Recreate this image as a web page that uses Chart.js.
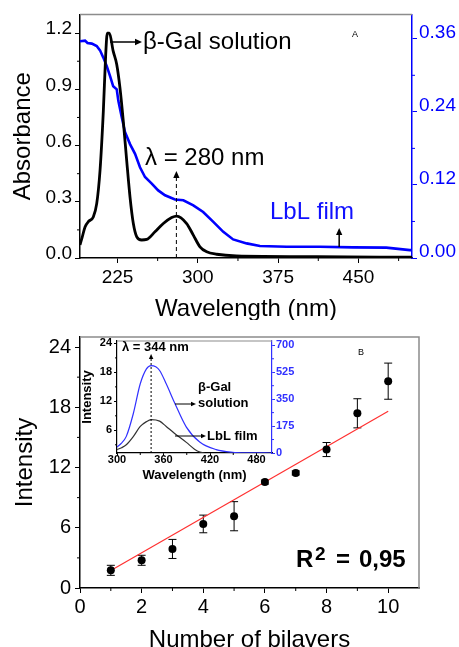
<!DOCTYPE html>
<html lang="en">
<head>
  <meta charset="UTF-8">
  <title>β-Gal absorbance and fluorescence</title>
  <style>
    html, body { margin: 0; padding: 0; background: #fff; overflow: hidden; }
    #wrap { position: relative; width: 459px; height: 647px; }
    canvas { position: absolute; }
  </style>
</head>
<body>
  <div id="wrap">
    <canvas id="chartA" width="459" height="320" style="left:0;top:0"></canvas>
    <canvas id="chartB" width="459" height="340" style="left:0;top:320px"></canvas>
    <canvas id="inset" width="230" height="160" style="left:72px;top:330px"></canvas>
  </div>

  <script src="https://cdn.jsdelivr.net/npm/chart.js"></script>
  <script>
    const FONT = 'Arial, "Liberation Sans", sans-serif';

    // ---- panel A: UV-vis absorbance ----
    const wlGal  = [190, 192, 194.7, 198, 202.4, 205.6, 208.7, 211.8, 214, 215.5, 217.4, 221, 224.3, 227.3, 230.4, 233.6, 236.7, 239.8, 243, 247.6, 252.3, 260, 267.8, 275.6, 280.3, 289.6, 295.8, 302, 308.3, 317.6, 336, 411, 500];
    const absGal = [0.07, 0.11, 0.166, 0.195, 0.219, 0.29, 0.467, 0.785, 1.086, 1.2, 1.2, 1.104, 1.033, 0.909, 0.732, 0.52, 0.325, 0.184, 0.113, 0.096, 0.099, 0.14, 0.184, 0.216, 0.224, 0.184, 0.122, 0.06, 0.033, 0.02, 0.011, 0.007, 0.004];
    const wlFilm  = [190, 194.7, 197, 201, 205.6, 208.7, 211.8, 215, 218, 221, 224.3, 225.8, 229, 232, 236.7, 241.4, 246, 250.7, 257, 263, 269.4, 278.7, 286.5, 295.8, 305, 314.5, 323.8, 333, 345.6, 358, 383, 414, 445, 476, 498, 500];
    const absFilm = [0.356, 0.357, 0.353, 0.352, 0.348, 0.341, 0.329, 0.315, 0.299, 0.282, 0.277, 0.258, 0.231, 0.207, 0.187, 0.171, 0.149, 0.133, 0.122, 0.111, 0.103, 0.096, 0.0947, 0.0865, 0.0756, 0.0593, 0.0429, 0.0305, 0.024, 0.0196, 0.0185, 0.0185, 0.0175, 0.017, 0.013, 0.013];

    const ticksAx = [225, 300, 375, 450];
    const minorAx = [262.5, 337.5, 412.5, 487.5];
    const ticksAy = [0, 0.3, 0.6, 0.9, 1.2];
    const labelsAy = ['0.0', '0.3', '0.6', '0.9', '1.2'];
    const minorAy = [0.15, 0.45, 0.75, 1.05];
    const ticksAy2 = [0, 0.12, 0.24, 0.36];
    const labelsAy2 = ['0.00', '0.12', '0.24', '0.36'];
    const minorAy2 = [0.06, 0.18, 0.30];

    // ---- panel B: intensity vs bilayers ----
    const bilayers = [1, 2, 3, 4, 5, 6, 7, 8, 9, 10];
    const intensity = [1.76, 2.76, 3.89, 6.38, 7.15, 10.55, 11.46, 13.79, 17.4, 20.6];
    const intensityErr = [0.5, 0.5, 0.95, 0.88, 1.45, 0.2, 0.2, 0.7, 1.45, 1.8];
    const fitX = [1, 10];
    const fitY = [1.75, 17.6];

    const ticksBx = [0, 2, 4, 6, 8, 10];
    const minorBx = [1, 3, 5, 7, 9];
    const ticksBy = [0, 6, 12, 18, 24];
    const minorBy = [3, 9, 15, 21];

    // ---- inset: fluorescence spectra ----
    const insetWlSol = [300, 305, 312, 321, 330, 338, 344, 350, 355, 363.5, 374, 389.5, 406.7, 428, 449, 470, 500];
    const insetSol   = [39, 60, 108, 255, 450, 547, 568, 560, 536, 450, 330, 168, 71, 22, 5, 1, 0];
    const insetWlFilm = [300, 306, 312, 321, 330, 338, 344, 355, 363.5, 374, 389.5, 400, 407, 413];
    const insetFilm   = [2.0, 2.4, 3.0, 4.7, 6.8, 7.8, 8.2, 7.9, 6.8, 5.4, 3.5, 2.1, 1.5, 1.3];

    const ticksIx = [300, 360, 420, 480];
    const minorIx = [330, 390, 450];
    const ticksIy = [6, 12, 18, 24];
    const minorIy = [3, 9, 15, 21];
    const ticksIy2 = [0, 175, 350, 525, 700];
    const minorIy2 = [87.5, 262.5, 437.5, 612.5];

    const toPts = (xs, ys) => xs.map((x, i) => ({ x, y: ys[i] }));
    const fixTicks = vals => s => { s.ticks = vals.map(v => ({ value: v })); };

    function arrow(ctx, x1, y1, x2, y2, color, w, head) {
      const a = Math.atan2(y2 - y1, x2 - x1);
      const h = head || 7;
      ctx.strokeStyle = color; ctx.fillStyle = color; ctx.lineWidth = w;
      ctx.beginPath(); ctx.moveTo(x1, y1);
      ctx.lineTo(x2 - h * 0.8 * Math.cos(a), y2 - h * 0.8 * Math.sin(a)); ctx.stroke();
      ctx.setLineDash([]);
      ctx.beginPath();
      ctx.moveTo(x2, y2);
      ctx.lineTo(x2 - h * Math.cos(a) + h * 0.45 * Math.sin(a), y2 - h * Math.sin(a) - h * 0.45 * Math.cos(a));
      ctx.lineTo(x2 - h * Math.cos(a) - h * 0.45 * Math.sin(a), y2 - h * Math.sin(a) + h * 0.45 * Math.cos(a));
      ctx.closePath(); ctx.fill();
    }

    function text(ctx, s, x, y, font, color, align) {
      ctx.font = font; ctx.fillStyle = color || '#000';
      ctx.textAlign = align || 'left'; ctx.textBaseline = 'middle';
      ctx.fillText(s, x, y);
    }

    // short minor ticks outside the axes
    function minorTicks(map, len) {
      return {
        id: 'minorTicks',
        afterDraw(chart) {
          const ctx = chart.ctx;
          ctx.save();
          for (const id in map) {
            const s = chart.scales[id];
            ctx.strokeStyle = s.options.border.color;
            ctx.lineWidth = 1;
            ctx.beginPath();
            map[id].forEach(v => {
              const p = s.getPixelForValue(v);
              if (s.isHorizontal()) { ctx.moveTo(p, s.top); ctx.lineTo(p, s.top + len); }
              else if (s.position === 'left') { ctx.moveTo(s.right, p); ctx.lineTo(s.right - len, p); }
              else { ctx.moveTo(s.left, p); ctx.lineTo(s.left + len, p); }
            });
            ctx.stroke();
          }
          ctx.restore();
        }
      };
    }

    function axis(opts) {
      return Object.assign({
        type: 'linear',
        grid: { drawOnChartArea: false, drawTicks: true, tickLength: opts.tl || 5, color: opts.color || '#000' },
        border: { color: opts.color || '#000', width: opts.bw || 1.5 },
      }, opts.extra);
    }

    // ================= Panel A =================
    const annotA = {
      id: 'annotA',
      afterDatasetsDraw(chart) {
        const { ctx, chartArea: ca, scales: { x } } = chart;
        ctx.save();
        ctx.strokeStyle = '#8c8c8c'; ctx.lineWidth = 1.5;
        ctx.beginPath(); ctx.moveTo(ca.left, ca.top); ctx.lineTo(ca.right, ca.top); ctx.stroke();

        arrow(ctx, 110, 42, 142, 42, '#000', 1.5, 7);
        text(ctx, 'β-Gal solution', 143, 42, '24px ' + FONT);
        text(ctx, 'λ = 280 nm', 145, 158, '24px ' + FONT);

        const xp = x.getPixelForValue(280);
        ctx.setLineDash([4, 3]);
        arrow(ctx, xp, ca.bottom, xp, 171, '#000', 1, 7);

        text(ctx, 'LbL film', 270, 212, '24px ' + FONT, '#1010ff');
        const xf = x.getPixelForValue(432);
        arrow(ctx, xf, 247, xf, 228, '#000', 1.5, 7);

        text(ctx, 'A', 355, 35, '9px ' + FONT, '#000', 'center');
        ctx.restore();
      }
    };

    new Chart(document.getElementById('chartA'), {
      type: 'line',
      data: {
        datasets: [
          { data: toPts(wlGal, absGal), borderColor: '#000', borderWidth: 2.8, pointRadius: 0, cubicInterpolationMode: 'monotone', yAxisID: 'y' },
          { data: toPts(wlFilm, absFilm), borderColor: '#0000ff', borderWidth: 2.6, pointRadius: 0, tension: 0, yAxisID: 'y2' }
        ]
      },
      options: {
        responsive: false, animation: false, events: [],
        layout: { padding: { top: 13, left: 0, right: 0, bottom: 0 } },
        plugins: { legend: { display: false }, tooltip: { enabled: false } },
        scales: {
          x: axis({ extra: {
            min: 190, max: 500,
            afterBuildTicks: fixTicks(ticksAx),
            afterFit: s => { s.height = 62; },
            ticks: { color: '#000', font: { family: FONT, size: 19 }, padding: 3, maxRotation: 0 },
            title: { display: true, text: 'Wavelength (nm)', color: '#000', font: { family: FONT, size: 24 }, padding: { top: 0, bottom: -4 } }
          }}),
          y: axis({ extra: {
            position: 'left', min: 0, max: 1.3,
            afterBuildTicks: fixTicks(ticksAy),
            afterFit: s => { s.width = 80; },
            ticks: { color: '#000', font: { family: FONT, size: 19 }, padding: 3, labelOffset: -4, callback: (v, i) => labelsAy[i] },
            title: { display: true, text: 'Absorbance', color: '#000', font: { family: FONT, size: 24 }, padding: { top: 9, bottom: 0 } }
          }}),
          y2: axis({ color: '#0000ff', extra: {
            position: 'right', min: 0, max: 0.4,
            afterBuildTicks: fixTicks(ticksAy2),
            afterFit: s => { s.width = 47; },
            ticks: { color: '#0000ff', font: { family: FONT, size: 19 }, padding: 2, labelOffset: -6, callback: (v, i) => labelsAy2[i] }
          }})
        }
      },
      plugins: [minorTicks({ x: minorAx, y: minorAy, y2: minorAy2 }, 3), annotA]
    });

    // ================= Panel B =================
    const annotB = {
      id: 'annotB',
      beforeDatasetsDraw(chart) {
        const { ctx, scales: { x, y } } = chart;
        ctx.save();
        ctx.strokeStyle = '#000'; ctx.lineWidth = 1;
        bilayers.forEach((b, i) => {
          const px = x.getPixelForValue(b);
          const t = y.getPixelForValue(intensity[i] + intensityErr[i]);
          const d = y.getPixelForValue(intensity[i] - intensityErr[i]);
          ctx.beginPath();
          ctx.moveTo(px, t); ctx.lineTo(px, d);
          ctx.moveTo(px - 4, t); ctx.lineTo(px + 4, t);
          ctx.moveTo(px - 4, d); ctx.lineTo(px + 4, d);
          ctx.stroke();
        });
        ctx.restore();
      },
      afterDatasetsDraw(chart) {
        const { ctx, chartArea: ca } = chart;
        ctx.save();
        ctx.strokeStyle = '#8c8c8c'; ctx.lineWidth = 1.5;
        ctx.beginPath();
        ctx.moveTo(ca.left, ca.top); ctx.lineTo(ca.right, ca.top); ctx.lineTo(ca.right, ca.bottom);
        ctx.stroke();

        text(ctx, 'B', 361, 33, '9px ' + FONT, '#000', 'center');
        ctx.textBaseline = 'alphabetic'; ctx.textAlign = 'left'; ctx.fillStyle = '#000';
        ctx.font = 'bold 24px ' + FONT;
        ctx.fillText('R', 296, 247);
        ctx.fillText('=', 336, 247);
        ctx.fillText('0,95', 359, 247);
        ctx.font = 'bold 19px ' + FONT;
        ctx.fillText('2', 315, 240);
        ctx.restore();
      }
    };

    new Chart(document.getElementById('chartB'), {
      type: 'scatter',
      data: {
        datasets: [
          { data: toPts(bilayers, intensity), backgroundColor: '#000', borderColor: '#000', pointRadius: 4, pointBorderWidth: 0 },
          { data: toPts(fitX, fitY), showLine: true, borderColor: '#ff3030', borderWidth: 1.2, pointRadius: 0 }
        ]
      },
      options: {
        responsive: false, animation: false, events: [],
        layout: { padding: { top: 17, left: 0, right: 40, bottom: 0 } },
        plugins: { legend: { display: false }, tooltip: { enabled: false } },
        scales: {
          x: axis({ extra: {
            min: 0, max: 11,
            afterBuildTicks: fixTicks(ticksBx),
            afterFit: s => { s.height = 72; },
            ticks: { color: '#000', font: { family: FONT, size: 20 }, padding: 2, maxRotation: 0 },
            title: { display: true, text: 'Number of bilayers', color: '#000', font: { family: FONT, size: 24 }, padding: { top: 0, bottom: 5.6 } }
          }}),
          y: axis({ extra: {
            position: 'left', min: 0, max: 25,
            afterBuildTicks: fixTicks(ticksBy),
            afterFit: s => { s.width = 80; },
            ticks: { color: '#000', font: { family: FONT, size: 20 }, padding: 4 },
            title: { display: true, text: 'Intensity', color: '#000', font: { family: FONT, size: 24 }, padding: { top: 10.6, bottom: 0 } }
          }})
        }
      },
      plugins: [minorTicks({ x: minorBx, y: minorBy }, 3), annotB]
    });

    // ================= Inset =================
    const annotI = {
      id: 'annotI',
      afterDatasetsDraw(chart) {
        const { ctx, chartArea: ca, scales: { x } } = chart;
        ctx.save();
        ctx.strokeStyle = '#8c8c8c'; ctx.lineWidth = 1.2;
        ctx.beginPath(); ctx.moveTo(ca.left, ca.top); ctx.lineTo(ca.right, ca.top); ctx.stroke();

        const xp = x.getPixelForValue(344);
        ctx.setLineDash([2, 2]);
        arrow(ctx, xp, ca.bottom, xp, 24, '#000', 1, 5);

        const f = 'bold 13px ' + FONT;
        text(ctx, 'λ = 344 nm', 50, 17, f);
        text(ctx, 'β-Gal', 126, 57, f);
        text(ctx, 'solution', 126, 73, f);
        text(ctx, 'LbL film', 135, 106, f);
        arrow(ctx, 103, 74, 124, 74, '#000', 1, 5);
        arrow(ctx, 103, 106, 134, 106, '#000', 1, 5);
        ctx.restore();
      }
    };

    new Chart(document.getElementById('inset'), {
      type: 'line',
      data: {
        datasets: [
          { data: toPts(insetWlSol, insetSol), borderColor: '#3030ff', borderWidth: 1.2, pointRadius: 0, cubicInterpolationMode: 'monotone', yAxisID: 'y2' },
          { data: toPts(insetWlFilm, insetFilm), borderColor: '#333', borderWidth: 1.2, pointRadius: 0, cubicInterpolationMode: 'monotone', yAxisID: 'y' }
        ]
      },
      options: {
        responsive: false, animation: false, events: [],
        layout: { padding: { top: 11, left: 0, right: 0, bottom: 0 } },
        plugins: { legend: { display: false }, tooltip: { enabled: false } },
        scales: {
          x: axis({ tl: 3, bw: 1.2, extra: {
            min: 300, max: 500,
            afterBuildTicks: fixTicks(ticksIx),
            afterFit: s => { s.height = 37; },
            ticks: { color: '#000', font: { family: FONT, size: 11, weight: 'bold' }, padding: -3, maxRotation: 0 },
            title: { display: true, text: 'Wavelength (nm)', color: '#000', font: { family: FONT, size: 13, weight: 'bold' }, padding: { top: 0, bottom: 6.5 } }
          }}),
          y: axis({ tl: 3, bw: 1.2, extra: {
            position: 'left', min: 1.3, max: 24.5,
            afterBuildTicks: fixTicks(ticksIy),
            afterFit: s => { s.width = 45; },
            ticks: { color: '#000', font: { family: FONT, size: 11, weight: 'bold' }, padding: 2 },
            title: { display: true, text: 'Intensity', color: '#000', font: { family: FONT, size: 13, weight: 'bold' }, padding: { top: 7.5, bottom: 0 } }
          }}),
          y2: axis({ tl: 3, bw: 1.2, color: '#3030ff', extra: {
            position: 'right', min: 0, max: 728,
            afterBuildTicks: fixTicks(ticksIy2),
            afterFit: s => { s.width = 30; },
            ticks: { color: '#3030ff', font: { family: FONT, size: 11, weight: 'bold' }, padding: 1 }
          }})
        }
      },
      plugins: [minorTicks({ x: minorIx, y: minorIy, y2: minorIy2 }, 2), annotI]
    });
  </script>
</body>
</html>
